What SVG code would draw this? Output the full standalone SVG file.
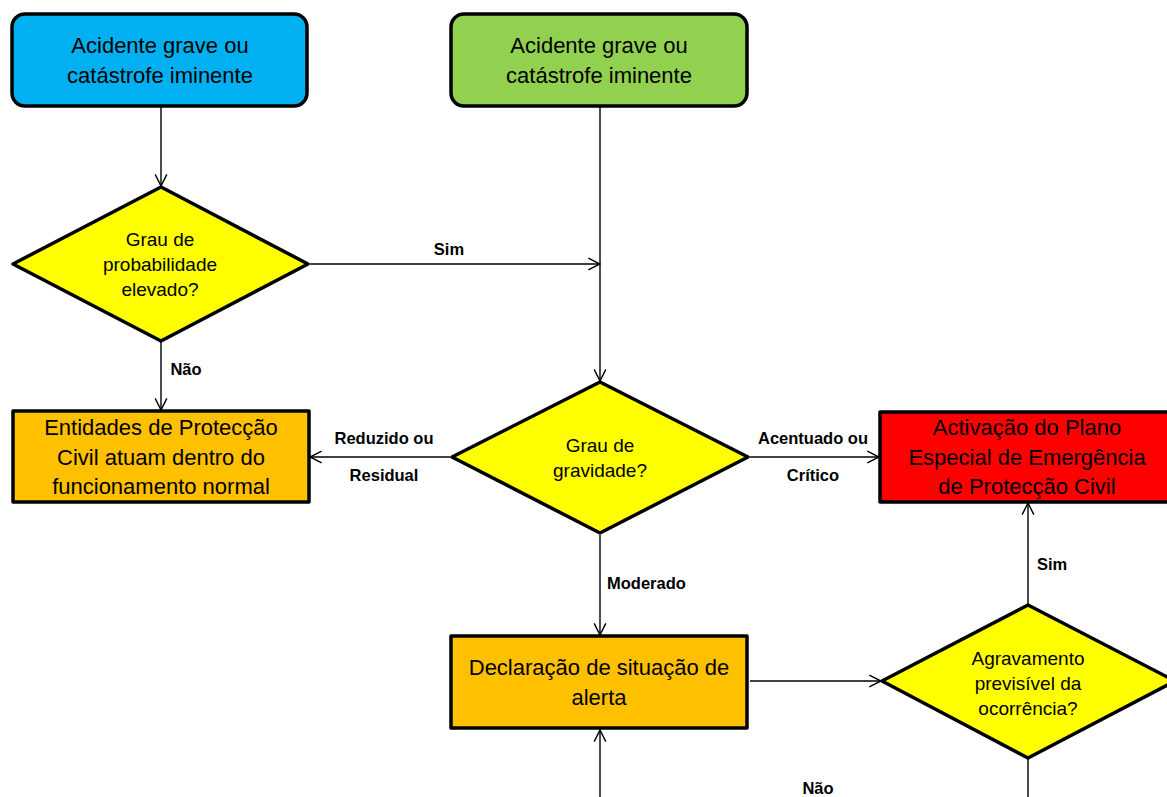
<svg xmlns="http://www.w3.org/2000/svg" width="1167" height="797" viewBox="0 0 1167 797">
<defs>
<marker id="arr" markerUnits="userSpaceOnUse" markerWidth="14" markerHeight="14" viewBox="0 0 12 12" refX="11" refY="6" orient="auto">
<path d="M1,1 L11,6 L1,11" fill="none" stroke="#000" stroke-width="1.2"/>
</marker>
<style>
.shape{stroke:#000;stroke-width:3.5;stroke-linejoin:round}
.box{font-family:"Liberation Sans",Arial,sans-serif;font-size:22px;text-anchor:middle;fill:#000}
.dia{font-family:"Liberation Sans",Arial,sans-serif;font-size:19px;text-anchor:middle;fill:#000}
.lbl{font-family:"Liberation Sans",Arial,sans-serif;font-size:16.5px;font-weight:bold;fill:#000}
.c{text-anchor:middle}
.conn{fill:none;stroke:#000;stroke-width:1.4}
</style>
</defs>
<rect width="1167" height="797" fill="#fff"/>

<g id="connectors">
<path class="conn" d="M161,107 V186" marker-end="url(#arr)"/>
<path class="conn" d="M310,264 H600" marker-end="url(#arr)"/>
<path class="conn" d="M600,107 V381" marker-end="url(#arr)"/>
<path class="conn" d="M161,342 V410" marker-end="url(#arr)"/>
<path class="conn" d="M450,457 H310" marker-end="url(#arr)"/>
<path class="conn" d="M750,457 H879" marker-end="url(#arr)"/>
<path class="conn" d="M600,535 V635" marker-end="url(#arr)"/>
<path class="conn" d="M750,681 H881" marker-end="url(#arr)"/>
<path class="conn" d="M1028,604 V503" marker-end="url(#arr)"/>
<path class="conn" d="M1028,759 V797"/>
<path class="conn" d="M600,797 V730" marker-end="url(#arr)"/>
<text class="lbl c" x="449" y="255">Sim</text>
<text class="lbl c" x="186" y="375">Não</text>
<text class="lbl c" x="384" y="444">Reduzido ou</text>
<text class="lbl c" x="384" y="481">Residual</text>
<text class="lbl c" x="813" y="444">Acentuado ou</text>
<text class="lbl c" x="813" y="481">Crítico</text>
<text class="lbl" x="607" y="589">Moderado</text>
<text class="lbl" x="1037" y="570">Sim</text>
<text class="lbl c" x="818" y="794">Não</text>
</g>

<g id="start-blue">
<rect class="shape" x="12" y="14" width="295" height="92" rx="13" fill="#00B0F0"/>
<text class="box" x="160" y="53">Acidente grave ou</text>
<text class="box" x="160" y="83">catástrofe iminente</text>
</g>

<g id="start-green">
<rect class="shape" x="451" y="14" width="296" height="92" rx="13" fill="#92D050"/>
<text class="box" x="599" y="53">Acidente grave ou</text>
<text class="box" x="599" y="83">catástrofe iminente</text>
</g>

<g id="dec-probabilidade">
<polygon class="shape" points="161,187 308,264 161,341 13,264" fill="#FFFF00"/>
<text class="dia" x="160" y="246">Grau de</text>
<text class="dia" x="160" y="271">probabilidade</text>
<text class="dia" x="160" y="296">elevado?</text>
</g>

<g id="entidades">
<rect class="shape" x="13" y="411" width="296" height="91" fill="#FFC000"/>
<text class="box" x="161" y="435">Entidades de Protecção</text>
<text class="box" x="161" y="465">Civil atuam dentro do</text>
<text class="box" x="161" y="494">funcionamento normal</text>
</g>

<g id="dec-gravidade">
<polygon class="shape" points="600,382 748,457 600,533 452,457" fill="#FFFF00"/>
<text class="dia" x="600" y="452">Grau de</text>
<text class="dia" x="600" y="477">gravidade?</text>
</g>

<g id="activacao">
<rect class="shape" x="880" y="412" width="296" height="90" fill="#FF0000"/>
<text class="box" x="1027" y="435" fill="#1a0000">Activação do Plano</text>
<text class="box" x="1027" y="465" fill="#1a0000">Especial de Emergência</text>
<text class="box" x="1027" y="494" fill="#1a0000">de Protecção Civil</text>
</g>

<g id="declaracao">
<rect class="shape" x="451" y="636" width="296" height="92" fill="#FFC000"/>
<text class="box" x="599" y="675">Declaração de situação de</text>
<text class="box" x="599" y="705">alerta</text>
</g>

<g id="dec-agravamento">
<polygon class="shape" points="1028,605 1175,681 1028,758 882,681" fill="#FFFF00"/>
<text class="dia" x="1028" y="665">Agravamento</text>
<text class="dia" x="1028" y="690">previsível da</text>
<text class="dia" x="1028" y="715">ocorrência?</text>
</g>
</svg>
